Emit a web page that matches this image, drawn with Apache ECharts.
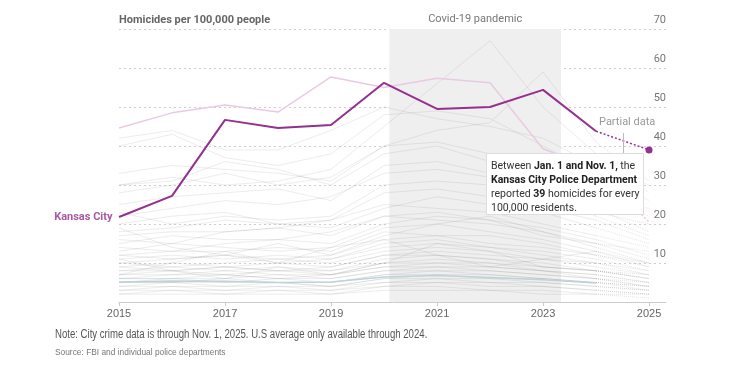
<!DOCTYPE html>
<html>
<head>
<meta charset="utf-8">
<script src="https://cdn.jsdelivr.net/npm/echarts@6/dist/echarts.min.js"></script>
<style>
  html, body { margin: 0; padding: 0; background: #fff; }
  #chart { width: 750px; height: 375px; }
</style>
</head>
<body>
<div id="chart"></div>
<script>
// years and tick labels
const years = [2015, 2016, 2017, 2018, 2019, 2020, 2021, 2022, 2023, 2024, 2025];
const xTicks = [2015, 2017, 2019, 2021, 2023, 2025];
const yTicks = [10, 20, 30, 40, 50, 60, 70];

// Kansas City (2025 = partial, through Nov. 1)
const kansasCity = [21.8, 27.2, 46.7, 44.6, 45.4, 56.2, 49.5, 50.0, 54.4, 43.8, 39];
// highlighted comparison city (light pink)
const pinkCity = [44.6, 48.5, 50.5, 48.7, 57.7, 55.0, 57.4, 56.2, 39.3, 34, 20.5];
// U.S. average, only through 2024
const usAverage = [5.1, 5.4, 5.3, 5.0, 5.1, 6.4, 6.8, 6.3, 5.7, 4.9];

// other cities, one row per city, 2015..2025
const otherCities = [
  [42, 44, 39, 39, 44, 50, 47, 45, 42, 35, 30],
  [40, 43, 37, 35, 38, 48, 49, 47, 40, 33, 26],
  [30, 32, 30, 31, 34, 45, 56, 67, 50, 38, 28],
  [28, 30, 33, 30, 32, 40, 44, 46, 59, 41, 31],
  [33, 35, 34, 33, 31, 40, 41, 38, 33, 28, 22],
  [30, 31, 36, 34, 30, 38, 40, 36, 31, 27, 24],
  [25, 27, 28, 29, 26, 35, 36, 33, 30, 24, 18],
  [22, 24, 26, 25, 27, 33, 34, 32, 28, 22, 17],
  [23, 20, 22, 21, 22, 30, 31, 30, 27, 23, 20],
  [20, 22, 23, 20, 21, 28, 29, 27, 24, 21, 16],
  [18, 19, 21, 20, 19, 24, 27, 25, 23, 19, 15],
  [17, 18, 18, 19, 21, 25, 24, 23, 20, 17, 14],
  [16, 15, 18, 19, 17, 22, 23, 21, 19, 16, 12],
  [15, 17, 16, 16, 18, 22, 21, 20, 18, 15, 13],
  [14, 13, 15, 16, 15, 20, 22, 21, 17, 15, 11],
  [13, 15, 14, 13, 14, 19, 20, 18, 16, 13, 10],
  [12, 13, 13, 14, 13, 18, 17, 17, 15, 12, 10],
  [12, 11, 12, 11, 12, 16, 17, 15, 14, 12, 9],
  [11, 12, 11, 12, 11, 15, 16, 14, 13, 11, 8],
  [10, 11, 12, 10, 11, 14, 15, 14, 12, 10, 8],
  [10, 9, 10, 11, 10, 13, 14, 13, 11, 10, 7],
  [9, 10, 9, 10, 9, 12, 13, 12, 11, 9, 7],
  [9, 8, 9, 8, 9, 12, 12, 11, 10, 8, 6],
  [8, 9, 8, 9, 8, 11, 12, 11, 9, 8, 6],
  [8, 8, 9, 8, 8, 10, 11, 10, 9, 8, 6],
  [7, 8, 7, 8, 7, 10, 10, 10, 8, 7, 5],
  [7, 7, 8, 7, 7, 9, 10, 9, 8, 7, 5],
  [6, 7, 7, 6, 7, 9, 9, 9, 8, 6, 5],
  [6, 6, 6, 7, 6, 8, 9, 8, 7, 6, 4],
  [6, 6, 7, 6, 6, 8, 8, 8, 7, 6, 4],
  [5, 6, 5, 6, 5, 7, 8, 7, 6, 5, 4],
  [5, 5, 6, 5, 5, 7, 7, 7, 6, 5, 4],
  [5, 5, 5, 5, 4, 6, 7, 6, 6, 5, 3],
  [4, 5, 4, 5, 4, 6, 6, 6, 5, 4, 3],
  [4, 4, 4, 4, 4, 5, 6, 5, 5, 4, 3],
  [3, 4, 3, 4, 3, 5, 5, 5, 4, 3, 2],
  [3, 3, 3, 3, 3, 4, 5, 4, 4, 3, 2],
  [2, 3, 2, 3, 2, 4, 4, 3, 3, 2, 2],
  [2, 2, 2, 2, 2, 3, 3, 3, 2, 2, 1],
  [19, 14, 12, 15, 12, 17, 20, 22, 18, 14, 10],
  [7, 10, 13, 10, 14, 16, 12, 9, 11, 13, 9],
  [11, 8, 6, 9, 7, 10, 15, 13, 9, 8, 7]
];

// covid band (March 2020 - May 2023)
const covidRange = [2020.1, 2023.34];

const purple = '#94308d';
const font = '"Liberation Sans", Arial, sans-serif';

const chart = echarts.init(document.getElementById('chart'));

// split a row into solid part (to 2024) and dotted partial part (2024-2025)
function solidPart(row) {
  return years.map((y, i) => [y, i < 10 ? row[i] : null]);
}
function partialPart(row) {
  return years.map((y, i) => [y, i >= 9 ? row[i] : null]);
}

const series = [];

// covid band holder
series.push({
  type: 'line', data: [], silent: true, z: 0,
  markArea: {
    silent: true,
    itemStyle: { color: '#efefef' },
    label: { show: true, position: 'top', color: '#777', fontSize: 11, fontFamily: 'Roboto, sans-serif', distance: 4 },
    data: [[{ name: 'Covid-19 pandemic', xAxis: covidRange[0], yAxis: 70 }, { xAxis: covidRange[1], yAxis: 0 }]]
  }
});

otherCities.forEach((row) => {
  series.push({
    type: 'line', data: solidPart(row), showSymbol: false, silent: true, z: 2,
    lineStyle: { color: 'rgba(120,120,120,0.14)', width: 1 }
  });
  series.push({
    type: 'line', data: partialPart(row), showSymbol: false, silent: true, z: 2,
    lineStyle: { color: 'rgba(120,120,120,0.2)', width: 1, type: [1, 1] }
  });
});

series.push({
  type: 'line', data: usAverage.map((v, i) => [years[i], v]), showSymbol: false, silent: true, z: 3,
  lineStyle: { color: '#bcd3da', width: 1.5 }
});

series.push({
  type: 'line', data: solidPart(pinkCity), showSymbol: false, silent: true, z: 4,
  lineStyle: { color: '#e8cbe2', width: 1.5 }
});
series.push({
  type: 'line', data: partialPart(pinkCity), showSymbol: false, silent: true, z: 4,
  lineStyle: { color: '#e8cbe2', width: 1.5, type: [2, 2] }
});

series.push({
  type: 'line', showSymbol: false, silent: true, z: 6,
  data: solidPart(kansasCity),
  lineStyle: { color: purple, width: 2 }
});
series.push({
  type: 'line', silent: true, z: 6,
  data: partialPart(kansasCity).map((d, i) => i === 10 ? { value: d, symbol: 'circle', symbolSize: 7, itemStyle: { color: purple } } : d),
  showSymbol: true, symbol: 'none',
  lineStyle: { color: purple, width: 1.5, type: [2, 2] }
});
// city name next to first point
series.push({
  type: 'scatter', silent: true, z: 7,
  data: [[years[0], kansasCity[0]]],
  symbolSize: 1, itemStyle: { color: 'rgba(0,0,0,0)' },
  label: { show: true, position: 'left', distance: 6, formatter: 'Kansas City', color: purple, fontWeight: 'bold', fontSize: 11, fontFamily: 'Roboto, sans-serif' }
});

chart.setOption({
  animation: false,
  grid: { left: 119, right: 84, top: 29, bottom: 73 },
  xAxis: {
    type: 'value', min: 2015, max: 2025.32,
    axisLine: { show: true, lineStyle: { color: '#ccc' } },
    axisTick: { show: true, length: 4, lineStyle: { color: '#ccc' }, customValues: xTicks },
    axisLabel: { color: '#666', fontSize: 11, fontFamily: font, margin: 6, customValues: xTicks, formatter: v => String(v) },
    splitLine: { show: false }
  },
  yAxis: {
    type: 'value', min: 0, max: 70, interval: 10, position: 'right',
    axisLine: { show: false }, axisTick: { show: false },
    axisLabel: {
      inside: true, margin: 0, align: 'right', verticalAlign: 'bottom', padding: [0, 0, 3, 0],
      color: '#777', fontSize: 11, fontFamily: 'Roboto, sans-serif',
      formatter: v => yTicks.includes(v) ? String(v) : ''
    },
    splitLine: { lineStyle: { color: '#cfcfcf', type: [2, 3] } }
  },
  graphic: [
    { type: 'text', left: 119, top: 15, style: { text: 'Homicides per 100,000 people', fill: '#666', font: 'bold 11px Roboto, sans-serif' } },
    { type: 'text', left: 599, top: 117, style: { text: 'Partial data', fill: '#999', font: '11px Roboto, sans-serif' } },
    { type: 'line', shape: { x1: 623.5, y1: 133, x2: 623.5, y2: 154 }, style: { stroke: '#bbb', lineWidth: 1 }, z: 10 },
    { type: 'rect', shape: { x: 486.5, y: 153.5, width: 157, height: 61 }, style: { fill: '#fff', stroke: '#ddd', lineWidth: 1 }, z: 20 },
    {
      type: 'text', left: 491, top: 159, z: 21,
      style: {
        text: 'Between {b|Jan. 1 and Nov. 1,} the\n{b|Kansas City Police Department}\nreported {b|39} homicides for every\n100,000 residents.',
        fill: '#333', font: '10.5px Roboto, sans-serif', lineHeight: 14,
        rich: { b: { fontWeight: 'bold', fill: '#222', fontSize: 10.5, fontFamily: 'Roboto, sans-serif', lineHeight: 14 } }
      }
    },
    { type: 'text', x: 55, y: 329, scaleX: 0.8, style: { text: 'Note: City crime data is through Nov. 1, 2025. U.S average only available through 2024.', fill: '#555', font: '12px ' + font } },
    { type: 'text', x: 55, y: 347, scaleX: 0.88, style: { text: 'Source: FBI and individual police departments', fill: '#777', font: '9.5px ' + font } }
  ],
  series: series
});
</script>
</body>
</html>
